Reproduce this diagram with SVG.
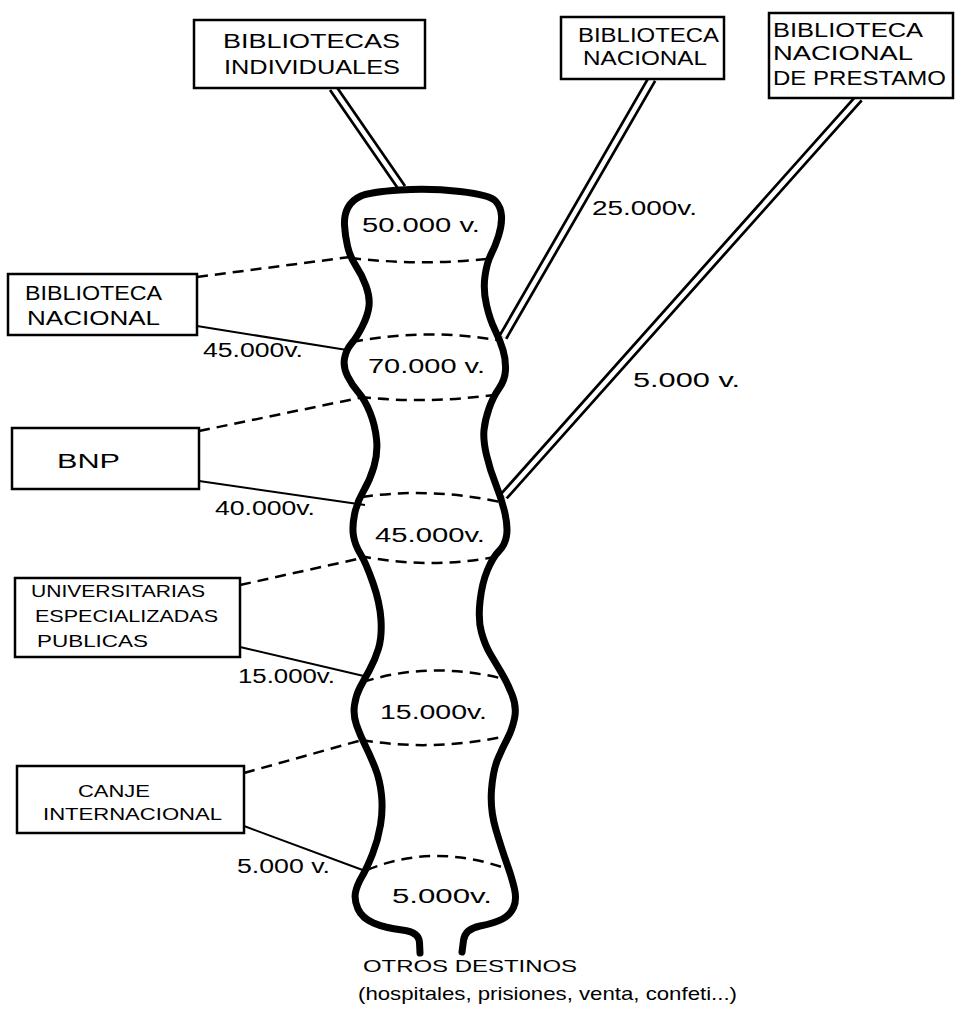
<svg xmlns="http://www.w3.org/2000/svg" width="956" height="1011" viewBox="0 0 956 1011">
<style>
text{font-family:"Liberation Sans",Arial,sans-serif;fill:#000}
.box{fill:#fff;stroke:#000;stroke-width:2.5}
.lbl{font-size:20px}
.sm{font-size:17px}
.num{font-size:20px}
.railo{fill:none;stroke:#000;stroke-width:10;stroke-linecap:butt}
.raili{fill:none;stroke:#fff;stroke-width:4.5;stroke-linecap:butt}
.dash{fill:none;stroke:#000;stroke-width:2.5;stroke-dasharray:11 7}
.sol{fill:none;stroke:#000;stroke-width:2}
.tube{fill:none;stroke:#000;stroke-width:7;stroke-linecap:round;stroke-linejoin:round}
</style>
<rect width="956" height="1011" fill="#fff"/>
<g id="connectors">
<path class="railo" d="M333,88 L402,188 M652,79 L503,337 M859,98 L504,496"/>
<path class="raili" d="M333,88 L402,188 M652,79 L503,337 M859,98 L504,496"/>
<path class="dash" d="M197,277 L350,257 M199,431 L359,398 M240,585 L362,558 M244,773 L362,740"/>
<path class="sol" d="M197,326 L347,350 M199,481 L365,505 M240,647 L368,677 M244,826 L368,872"/>
<text class="num" x="592" y="215" textLength="105" lengthAdjust="spacingAndGlyphs">25.000v.</text>
<text class="num" x="633" y="387" textLength="107" lengthAdjust="spacingAndGlyphs">5.000 v.</text>
<text class="num" x="203" y="357" textLength="100" lengthAdjust="spacingAndGlyphs">45.000v.</text>
<text class="num" x="215" y="515" textLength="100" lengthAdjust="spacingAndGlyphs">40.000v.</text>
<text class="num" x="238" y="683" textLength="97" lengthAdjust="spacingAndGlyphs">15.000v.</text>
<text class="num" x="237" y="873" textLength="93" lengthAdjust="spacingAndGlyphs">5.000 v.</text>
</g>
<g id="tube">
<path class="tube" d="M420,953 L419.5,942.5 Q419,932 402,930 Q385,928 373.5,923 Q362,918 358,909 Q354,900 355.5,892.5 Q357,885 362,876.5 Q367,868 372.5,854 Q378,840 380.5,825 Q383,810 381.5,795 Q380,780 375,767.5 Q370,755 365,745 Q360,735 356.5,725 Q353,715 354.5,705 Q356,695 360,687.5 Q364,680 369.5,670 Q375,660 378.5,648.5 Q382,637 381,620 Q380,603 373,583 Q366,563 360.5,554 Q355,545 353.5,536 Q352,527 354.5,514.5 Q357,502 363.5,491 Q370,480 374,466.5 Q378,453 376.5,439 Q375,425 370,412.5 Q365,400 358.5,392.5 Q352,385 347.5,376 Q343,367 344.5,358.5 Q346,350 351.5,343.5 Q357,337 362.5,326 Q368,315 369,306 Q370,297 366,286 Q362,275 356,266 Q350,257 347.5,246 Q345,235 344.5,225 Q344,215 348,207.5 Q352,200 361,196 Q370,192 400,190 Q430,188 460,191.5 Q490,195 495.5,201 Q501,207 501.5,216 Q502,225 498.5,236 Q495,247 491,254.5 Q487,262 485,276 Q483,290 486.5,305 Q490,320 495,330 Q500,340 503,350 Q506,360 505.5,370 Q505,380 499,388.5 Q493,397 489,408.5 Q485,420 484,430 Q483,440 486.5,455 Q490,470 496,485 Q502,500 505,513.5 Q508,527 506.5,536 Q505,545 499,551 Q493,557 487.5,570 Q482,583 480,601.5 Q478,620 481.5,632.5 Q485,645 490,653.5 Q495,662 501,672 Q507,682 512,694.5 Q517,707 514.5,718.5 Q512,730 507.5,738.5 Q503,747 498,758.5 Q493,770 491.5,790 Q490,810 496,830 Q502,850 507,864 Q512,878 514.5,889 Q517,900 513.5,907.5 Q510,915 502.5,919 Q495,923 480,926 Q465,929 463.5,940.5 L462,952"/>
<path class="dash" d="M350,258 Q420,266 487,259 M352,342 Q425,328 497,340 M360,397 Q425,404 494,395 M362,497 Q430,487 500,502 M360,556 Q430,570 500,556 M363,682 Q432,660 508,680 M362,740 Q432,752 507,736 M367,870 Q435,842 510,870"/>
<text class="num" x="362" y="232" textLength="118" lengthAdjust="spacingAndGlyphs">50.000 v.</text>
<text class="num" x="368" y="373" textLength="117" lengthAdjust="spacingAndGlyphs">70.000 v.</text>
<text class="num" x="375" y="542" font-size="23" textLength="110" lengthAdjust="spacingAndGlyphs">45.000v.</text>
<text class="num" x="380" y="719" textLength="107" lengthAdjust="spacingAndGlyphs">15.000v.</text>
<text class="num" x="392" y="903" textLength="100" lengthAdjust="spacingAndGlyphs">5.000v.</text>
</g>
<g id="n-bib-individuales">
<rect class="box" x="194" y="20" width="231" height="68"/>
<text class="lbl" x="223" y="48" textLength="177" lengthAdjust="spacingAndGlyphs">BIBLIOTECAS</text>
<text class="lbl" x="224" y="74" textLength="176" lengthAdjust="spacingAndGlyphs">INDIVIDUALES</text>
</g>
<g id="n-bib-nacional-top">
<rect class="box" x="561" y="17" width="163" height="62"/>
<text class="lbl" x="578" y="42" textLength="141" lengthAdjust="spacingAndGlyphs">BIBLIOTECA</text>
<text class="lbl" x="583" y="65" textLength="124" lengthAdjust="spacingAndGlyphs">NACIONAL</text>
</g>
<g id="n-bib-prestamo">
<rect class="box" x="769" y="13" width="184" height="85"/>
<text class="lbl" x="773" y="37" textLength="150" lengthAdjust="spacingAndGlyphs">BIBLIOTECA</text>
<text class="lbl" x="773" y="60" textLength="140" lengthAdjust="spacingAndGlyphs">NACIONAL</text>
<text class="lbl" x="773" y="85" textLength="173" lengthAdjust="spacingAndGlyphs">DE PRESTAMO</text>
</g>
<g id="n-bib-nacional">
<rect class="box" x="8" y="274" width="189" height="61"/>
<text class="lbl" x="25" y="300" textLength="137" lengthAdjust="spacingAndGlyphs">BIBLIOTECA</text>
<text class="lbl" x="27" y="325" textLength="133" lengthAdjust="spacingAndGlyphs">NACIONAL</text>
</g>
<g id="n-bnp">
<rect class="box" x="12" y="428" width="187" height="61"/>
<text class="lbl" x="57" y="468" textLength="63" lengthAdjust="spacingAndGlyphs">BNP</text>
</g>
<g id="n-universitarias">
<rect class="box" x="15" y="578" width="225" height="79"/>
<text class="sm" x="31" y="597" textLength="174" lengthAdjust="spacingAndGlyphs">UNIVERSITARIAS</text>
<text class="sm" x="35" y="622" textLength="183" lengthAdjust="spacingAndGlyphs">ESPECIALIZADAS</text>
<text class="sm" x="37" y="647" textLength="111" lengthAdjust="spacingAndGlyphs">PUBLICAS</text>
</g>
<g id="n-canje">
<rect class="box" x="17" y="766" width="227" height="67"/>
<text class="sm" x="78" y="797" textLength="72" lengthAdjust="spacingAndGlyphs">CANJE</text>
<text class="sm" x="43" y="820" textLength="179" lengthAdjust="spacingAndGlyphs">INTERNACIONAL</text>
</g>
<g id="n-otros">
<text class="sm" x="363" y="972" textLength="214" lengthAdjust="spacingAndGlyphs">OTROS DESTINOS</text>
<text x="358" y="1000" font-size="19" textLength="379" lengthAdjust="spacingAndGlyphs">(hospitales, prisiones, venta, confeti...)</text>
</g>
</svg>
